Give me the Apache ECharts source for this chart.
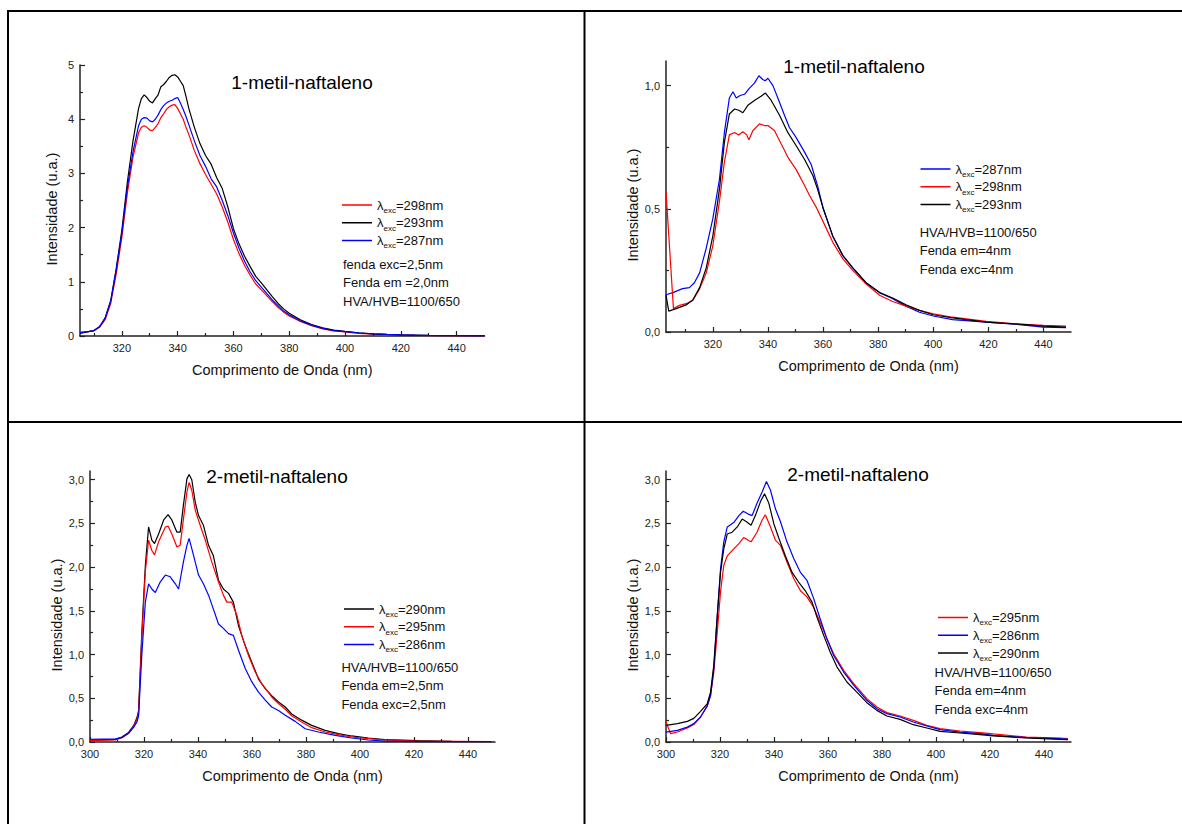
<!DOCTYPE html>
<html><head><meta charset="utf-8">
<script src="https://cdn.jsdelivr.net/npm/echarts@6/dist/echarts.min.js"></script>
<style>html,body{margin:0;padding:0;background:#fff;}#chart{width:1182px;height:824px;}</style>
</head><body><div id="chart"></div>
<script>
// ---------- DATA ----------
// Panel 1 (top-left): 1-metil-naftaleno, fendas 2,5/2,0 nm
const P1_WL = [305,308,310,312,314,316,318,320,322,324,326,327,328,329,330,331,332,333,334,335,336,337,338,339,340,341,342,343,344,346,348,350,352,354,356,358,360,362,364,366,368,370,372,374,376,378,380,384,388,392,396,400,405,410,415,420,425,430,435,440,445,450];
const P1_298 = [0.07,0.08,0.10,0.16,0.30,0.60,1.15,1.82,2.65,3.30,3.75,3.85,3.88,3.85,3.80,3.79,3.85,3.92,4.03,4.10,4.18,4.23,4.26,4.27,4.20,4.10,4.00,3.85,3.72,3.42,3.18,2.98,2.80,2.62,2.38,2.10,1.78,1.52,1.30,1.12,0.96,0.85,0.74,0.63,0.53,0.44,0.37,0.27,0.19,0.13,0.095,0.075,0.05,0.035,0.025,0.018,0.012,0.008,0.005,0.003,0.002,0.001];
const P1_293 = [0.05,0.08,0.10,0.17,0.33,0.65,1.25,1.95,2.85,3.60,4.20,4.38,4.45,4.40,4.33,4.30,4.38,4.45,4.60,4.64,4.70,4.77,4.81,4.82,4.78,4.70,4.62,4.42,4.20,3.85,3.55,3.33,3.17,2.92,2.72,2.38,1.98,1.70,1.47,1.28,1.10,0.98,0.85,0.72,0.60,0.50,0.42,0.30,0.21,0.15,0.11,0.085,0.06,0.04,0.03,0.022,0.016,0.010,0.007,0.005,0.003,0.002];
const P1_287 = [0.06,0.08,0.10,0.17,0.33,0.64,1.22,1.90,2.75,3.40,3.88,4.00,4.03,4.02,3.97,3.95,4.00,4.08,4.18,4.25,4.30,4.33,4.35,4.38,4.40,4.30,4.18,4.05,3.90,3.60,3.33,3.13,2.90,2.75,2.50,2.22,1.90,1.62,1.38,1.18,1.02,0.90,0.78,0.66,0.56,0.46,0.39,0.28,0.20,0.14,0.10,0.08,0.055,0.04,0.03,0.022,0.015,0.010,0.007,0.005,0.003,0.002];

// Panel 2 (top-right): 1-metil-naftaleno, fendas 4 nm
const P2_287_WL = [303,305.5,309,311.5,313.3,315.2,317.6,320,322.4,324.2,326,327.3,328.5,329.9,331.5,333.3,335.1,336.7,338.1,339,340,341.8,343.6,346,347.8,350.2,353.3,355.7,358.1,360.1,363.5,367.2,370.8,375.6,380.5,385.3,390.1,395,400,407,419.2,431.2,440,448.2];
const P2_287 = [0.151,0.16,0.176,0.18,0.2,0.24,0.34,0.46,0.62,0.81,0.95,0.975,0.95,0.96,0.965,0.99,1.01,1.04,1.025,1.02,1.03,1.0,0.95,0.88,0.83,0.79,0.73,0.68,0.59,0.5,0.39,0.31,0.26,0.2,0.16,0.135,0.105,0.08,0.065,0.05,0.04,0.03,0.02,0.018];
const P2_298_WL = [303,305.7,307.9,310.3,312.7,315.2,317.6,320,322.4,324.2,326,327.9,329.4,330.9,332.3,333.1,334.5,336.9,338.7,340,342.4,344.2,347.2,350.2,353.3,355.1,357.5,360.1,363.5,367.2,370.8,375.6,380.5,385.3,390.1,395,400,407,419.2,431.2,440,448.2];
const P2_298 = [0.57,0.095,0.108,0.115,0.128,0.175,0.24,0.35,0.53,0.69,0.80,0.81,0.80,0.813,0.80,0.78,0.817,0.845,0.838,0.838,0.817,0.777,0.71,0.66,0.595,0.554,0.507,0.446,0.365,0.297,0.25,0.196,0.149,0.124,0.105,0.088,0.074,0.06,0.043,0.032,0.027,0.024];
const P2_293_WL = [303,304,306.7,310.3,312.7,315.2,317.6,320,322.4,324.2,326,327.9,329.4,330.9,332.7,335.1,337.5,339.1,341.2,344.2,347.2,350.2,353.3,356.3,358,360.1,363.5,367.2,370.8,375.6,380.5,385.3,390.1,395,400,407,419.2,431.2,440,448.2];
const P2_293 = [0.15,0.085,0.095,0.11,0.13,0.18,0.26,0.39,0.58,0.77,0.885,0.905,0.9,0.89,0.92,0.94,0.957,0.97,0.94,0.88,0.81,0.757,0.70,0.635,0.58,0.5,0.39,0.31,0.26,0.2,0.16,0.138,0.11,0.088,0.07,0.057,0.04,0.032,0.024,0.02];

// Panel 3 (bottom-left): 2-metil-naftaleno, fendas 2,5 nm
const P3_290_WL = [300,309.4,311.8,314.3,316.2,317.4,318,319.2,320.5,321.7,322.9,323.9,325.4,327.3,328.9,330.3,332.2,333.4,334.6,335.9,336.7,337.7,339,340.2,342,343.9,345.7,347.6,349.4,351.3,353.1,355,357.5,359.9,362.4,364.9,367.3,369.8,372.3,374.7,378.4,382.1,387.1,392,396.9,403.1,409.2,421.6,433.9,448.7];
const P3_290 = [0.02,0.03,0.057,0.11,0.19,0.28,0.36,1.26,2.02,2.46,2.31,2.27,2.38,2.54,2.6,2.54,2.40,2.40,2.71,3.01,3.06,3.0,2.74,2.59,2.48,2.25,2.13,1.85,1.75,1.70,1.60,1.33,1.1,0.915,0.72,0.61,0.53,0.457,0.40,0.32,0.25,0.19,0.133,0.095,0.069,0.046,0.027,0.015,0.008,0.004];
const P3_295_WL = [300,309.4,311.8,314.3,316.2,317.4,318,319.2,320.5,321.7,322.9,323.9,325.4,327.9,328.9,330.3,332.2,333.4,334.6,335.9,336.7,337.7,339,340.8,342.7,345.1,347.6,349.4,350.7,352.5,354.4,356.2,358.7,361.2,363.6,367.3,369.8,372.3,374.7,378.4,382.1,387.1,392,396.9,403.1,409.2,421.6,433.9,448.7];
const P3_295 = [0.015,0.025,0.05,0.1,0.18,0.26,0.33,1.2,1.95,2.31,2.19,2.14,2.29,2.46,2.47,2.38,2.23,2.25,2.55,2.86,2.97,2.88,2.65,2.48,2.31,2.06,1.83,1.68,1.60,1.60,1.45,1.22,0.99,0.80,0.667,0.515,0.44,0.375,0.30,0.229,0.164,0.114,0.084,0.057,0.038,0.023,0.011,0.008,0.004];
const P3_286_WL = [300,309.4,311.8,314.3,316.2,317.4,318,319.2,320.5,321.7,322.9,324.2,326,327.9,329.7,331.6,332.8,334.6,335.9,336.7,338.3,340.2,342,343.9,345.7,347.6,349.4,351.3,353.1,355,357.5,359.9,362.4,364.9,367.3,369.8,372.3,376,379.7,384.6,390.8,396.9,403.1,409.2,421.6,448.7];
const P3_286 = [0.03,0.035,0.05,0.1,0.17,0.23,0.3,1.0,1.6,1.81,1.75,1.71,1.83,1.91,1.89,1.81,1.75,2.06,2.25,2.33,2.14,1.91,1.81,1.68,1.52,1.35,1.30,1.24,1.22,1.05,0.84,0.69,0.57,0.48,0.40,0.36,0.305,0.236,0.152,0.114,0.076,0.046,0.023,0.011,0.004,0.004];

// Panel 4 (bottom-right): 2-metil-naftaleno, fendas 4 nm
const P4_295_WL = [300,301.7,304.2,307.9,310.3,312.8,315.3,316.5,317.7,319,320.2,321.4,322.7,324.5,327,328.8,330.3,331.5,333.7,335.6,336.8,338.7,340.5,342.4,344.8,347.3,349.8,352.2,354.7,357.1,359.6,362.1,365.8,369.5,374.4,378.1,381.8,386.7,391.6,396.6,401.5,408.9,416.3,421.2,433.5,445.8,448.9];
const P4_295 = [0.23,0.095,0.114,0.16,0.2,0.286,0.42,0.53,0.8,1.26,1.72,2.02,2.13,2.19,2.27,2.34,2.31,2.29,2.40,2.54,2.6,2.46,2.31,2.25,2.06,1.87,1.73,1.66,1.54,1.37,1.18,1.01,0.82,0.667,0.496,0.40,0.336,0.297,0.248,0.19,0.153,0.126,0.107,0.092,0.057,0.046,0.038];
const P4_286_WL = [300,304.2,307.9,310.3,312.8,315.3,316.5,317.7,319,320.2,321.4,322.7,325.1,327,328.6,330.3,331.9,333.7,335.6,337.2,338.7,340.5,342.4,344.8,347.3,349.8,352.2,354.7,357.1,359.6,362.1,365.8,369.5,374.4,378.1,381.8,386.7,391.6,396.6,401.5,408.9,416.3,421.2,433.5,445.8,448.9];
const P4_286 = [0.114,0.133,0.17,0.21,0.286,0.41,0.53,0.84,1.45,1.98,2.29,2.46,2.51,2.59,2.64,2.61,2.59,2.73,2.86,2.98,2.88,2.67,2.52,2.29,2.1,1.94,1.85,1.64,1.41,1.18,0.99,0.80,0.65,0.477,0.381,0.324,0.286,0.229,0.183,0.141,0.114,0.095,0.076,0.05,0.038,0.03];
const P4_290_WL = [300,304.2,307.9,310.3,312.8,315.3,316.5,317.7,319,320.2,321.4,322.7,324.5,326.4,328.2,329.8,331.5,333.1,335,336.5,338.1,339.9,341.7,344.2,346.7,349.1,351.6,354.1,355.9,358.4,360.8,363.3,367,370.7,374.4,378.1,381.8,386.7,391.6,396.6,401.5,408.9,416.3,421.2,433.5,445.8,448.9];
const P4_290 = [0.19,0.21,0.236,0.27,0.35,0.44,0.57,0.88,1.45,1.94,2.21,2.38,2.40,2.46,2.55,2.52,2.48,2.59,2.75,2.84,2.73,2.5,2.34,2.13,1.94,1.83,1.73,1.60,1.43,1.22,1.03,0.86,0.686,0.57,0.45,0.362,0.297,0.259,0.198,0.16,0.122,0.103,0.084,0.069,0.046,0.03,0.027];

// Tick values
const X_MAJOR_A = [320,340,360,380,400,420,440];
const X_MAJOR_B = [300,320,340,360,380,400,420,440];
const X_MINOR = [310,330,350,370,390,410,430];
const Y_MAJOR_1 = [0,1,2,3,4,5];
const Y_MINOR_1 = [0.5,1.5,2.5,3.5,4.5];
const Y_MAJOR_2 = [0,0.5,1.0];
const Y_MINOR_2 = [0.25,0.75];
const Y_MAJOR_3 = [0,0.5,1.0,1.5,2.0,2.5,3.0];
const Y_MINOR_3 = [0.25,0.75,1.25,1.75,2.25,2.75];

// ---------- LAYOUT / STYLE ----------
const FONT = "'Liberation Sans', Arial, Helvetica, sans-serif";
const RED = '#ff0000', BLUE = '#0000ff', BLACK = '#000000';
const comma = v => (Math.round(v * 10) / 10).toFixed(1).replace('.', ',');

const panels = [
  { grid: {left: 80, top: 65, width: 404.5, height: 271}, xMin: 305, xMax: 450, yMax: 5,
    xMaj: X_MAJOR_A, xMin2: X_MINOR, yMaj: Y_MAJOR_1, yMin2: Y_MINOR_1, yFmt: v => String(v), xInt: 20, yInt: 1,
    title: '1-metil-naftaleno', tPos: [302, 82],
    ser: [[298, RED, P1_WL, P1_298], [293, BLACK, P1_WL, P1_293], [287, BLUE, P1_WL, P1_287]],
    lPos: [342, 198.5], notes: ['fenda exc=2,5nm', 'Fenda em =2,0nm', 'HVA/HVB=1100/650'], nPos: [343, 254.75] },
  { grid: {left: 666, top: 61, width: 405, height: 271}, xMin: 303, xMax: 450, yMax: 1.1,
    xMaj: X_MAJOR_A, xMin2: X_MINOR, yMaj: Y_MAJOR_2, yMin2: Y_MINOR_2, yFmt: comma, xInt: 20, yInt: 0.5,
    title: '1-metil-naftaleno', tPos: [854, 66.5],
    ser: [[287, BLUE, P2_287_WL, P2_287], [298, RED, P2_298_WL, P2_298], [293, BLACK, P2_293_WL, P2_293]],
    lPos: [920.5, 162.5], notes: ['HVA/HVB=1100/650', 'Fenda em=4nm', 'Fenda exc=4nm'], nPos: [919.7, 222.75] },
  { grid: {left: 90, top: 471, width: 405, height: 271}, xMin: 300, xMax: 450, yMax: 3.1,
    xMaj: X_MAJOR_B, xMin2: X_MINOR, yMaj: Y_MAJOR_3, yMin2: Y_MINOR_3, yFmt: comma, xInt: 20, yInt: 0.5,
    title: '2-metil-naftaleno', tPos: [277, 476.5],
    ser: [[290, BLACK, P3_290_WL, P3_290], [295, RED, P3_295_WL, P3_295], [286, BLUE, P3_286_WL, P3_286]],
    lPos: [344, 602.5], notes: ['HVA/HVB=1100/650', 'Fenda em=2,5nm', 'Fenda exc=2,5nm'], nPos: [341.4, 658] },
  { grid: {left: 666, top: 471, width: 405, height: 271}, xMin: 300, xMax: 450, yMax: 3.1,
    xMaj: X_MAJOR_B, xMin2: X_MINOR, yMaj: Y_MAJOR_3, yMin2: Y_MINOR_3, yFmt: comma, xInt: 20, yInt: 0.5,
    title: '2-metil-naftaleno', tPos: [858, 474.5],
    ser: [[295, RED, P4_295_WL, P4_295], [286, BLUE, P4_286_WL, P4_286], [290, BLACK, P4_290_WL, P4_290]],
    lPos: [938, 611], notes: ['HVA/HVB=1100/650', 'Fenda em=4nm', 'Fenda exc=4nm'], nPos: [934.6, 663] }
];

const AX = '#222';
const grids = [], xAxes = [], yAxes = [], series = [], legends = [], titles = [], graphics = [];

panels.forEach((p, i) => {
  grids.push(Object.assign({containLabel: false}, p.grid));
  xAxes.push({
    type: 'value', gridIndex: i, position: 'bottom', min: p.xMin, max: p.xMax, minInterval: p.xInt, maxInterval: p.xInt,
    name: 'Comprimento de Onda (nm)', nameLocation: 'middle', nameGap: 26,
    nameTextStyle: {fontFamily: FONT, fontSize: 14.5, color: '#111'},
    axisLine: {show: true, lineStyle: {color: AX, width: 1.5}},
    axisTick: {show: true, inside: true, length: 5, customValues: p.xMaj, lineStyle: {color: AX, width: 1.2}},
    axisLabel: {show: true, customValues: p.xMaj, margin: 6, fontFamily: FONT, fontSize: 11, color: '#222',
      formatter: v => (p.xMaj.indexOf(v) >= 0 ? String(v) : '')},
    splitLine: {show: false}
  });
  yAxes.push({
    type: 'value', gridIndex: i, position: 'left', min: 0, max: p.yMax, minInterval: p.yInt, maxInterval: p.yInt,
    name: 'Intensidade (u.a.)', nameLocation: 'middle', nameGap: 21, nameRotate: 90,
    nameTextStyle: {fontFamily: FONT, fontSize: 14.5, color: '#111', padding: [0, 17, 0, 0]},
    axisLine: {show: true, lineStyle: {color: AX, width: 1.5}},
    axisTick: {show: true, inside: true, length: 5, customValues: p.yMaj, lineStyle: {color: AX, width: 1.2}},
    axisLabel: {show: true, customValues: p.yMaj, margin: 6, fontFamily: FONT, fontSize: 11, color: '#222',
      formatter: v => (p.yMaj.some(m => Math.abs(m - v) < 1e-9) ? p.yFmt(v) : '')},
    splitLine: {show: false}
  });
});
// minor-tick axes (same side as the main axes)
panels.forEach((p, i) => {
  xAxes.push({
    type: 'value', gridIndex: i, position: 'bottom', offset: 0, min: p.xMin, max: p.xMax, minInterval: 10, maxInterval: 10,
    axisLine: {show: false}, axisLabel: {show: false}, splitLine: {show: false},
    axisTick: {show: true, inside: true, length: 3, customValues: p.xMin2, lineStyle: {color: AX, width: 1.2}}
  });
  yAxes.push({
    type: 'value', gridIndex: i, position: 'left', offset: 0, min: 0, max: p.yMax, minInterval: p.yInt / 2, maxInterval: p.yInt / 2,
    axisLine: {show: false}, axisLabel: {show: false}, splitLine: {show: false},
    axisTick: {show: true, inside: true, length: 3, customValues: p.yMin2, lineStyle: {color: AX, width: 1.2}}
  });
});

panels.forEach((p, i) => {
  const names = [];
  p.ser.forEach(([nm, color, wl, vals]) => {
    const name = 'λexc=' + nm + 'nm [' + (i + 1) + ']';
    names.push(name);
    series.push({
      name, type: 'line', xAxisIndex: i, yAxisIndex: i, showSymbol: false, symbol: 'none',
      smooth: false, animation: false, color,
      lineStyle: {color, width: 1.2},
      data: wl.map((w, k) => [w, vals[k]])
    });
  });
  legends.push({
    orient: 'vertical', left: p.lPos[0], top: p.lPos[1], padding: 0, itemGap: 2,
    itemWidth: 30, itemHeight: 1.5, icon: 'rect', selectedMode: false, data: names,
    formatter: n => {
      const nm = n.match(/=(\d+)nm/)[1];
      return '{l|λ}{s|exc}{t|=' + nm + 'nm}';
    },
    textStyle: {
      fontFamily: FONT, fontSize: 13, color: '#111',
      rich: {
        l: {fontFamily: FONT, fontSize: 13, lineHeight: 18.5, color: '#111'},
        s: {fontFamily: FONT, fontSize: 8, lineHeight: 6, verticalAlign: 'bottom', color: '#111'},
        t: {fontFamily: FONT, fontSize: 13, lineHeight: 18.5, color: '#111'}
      }
    }
  });
  titles.push({
    text: p.title, left: p.tPos[0], top: p.tPos[1], textAlign: 'center', textVerticalAlign: 'middle', padding: 0,
    textStyle: {fontFamily: FONT, fontSize: 19, fontWeight: 'normal', color: '#000'}
  });
  graphics.push({
    type: 'text', silent: true,
    style: {text: p.notes.join('\n'), x: p.nPos[0], y: p.nPos[1], fill: '#111',
      font: '13px ' + FONT, lineHeight: 18.5, textAlign: 'left', textVerticalAlign: 'top', verticalAlign: 'top'}
  });
});

// panel frame lines
[[7, 11, 1182, 11], [8, 10, 8, 824], [584.5, 10, 584.5, 824], [7, 422, 1182, 422]].forEach(s => {
  graphics.push({type: 'line', silent: true, shape: {x1: s[0], y1: s[1], x2: s[2], y2: s[3]},
    style: {stroke: '#000', lineWidth: 2}});
});

const chart = echarts.init(document.getElementById('chart'), null, {renderer: 'svg'});
chart.setOption({
  animation: false,
  backgroundColor: '#ffffff',
  textStyle: {fontFamily: FONT},
  title: titles,
  legend: legends,
  grid: grids,
  xAxis: xAxes,
  yAxis: yAxes,
  series,
  graphic: graphics
});
</script></body></html>
